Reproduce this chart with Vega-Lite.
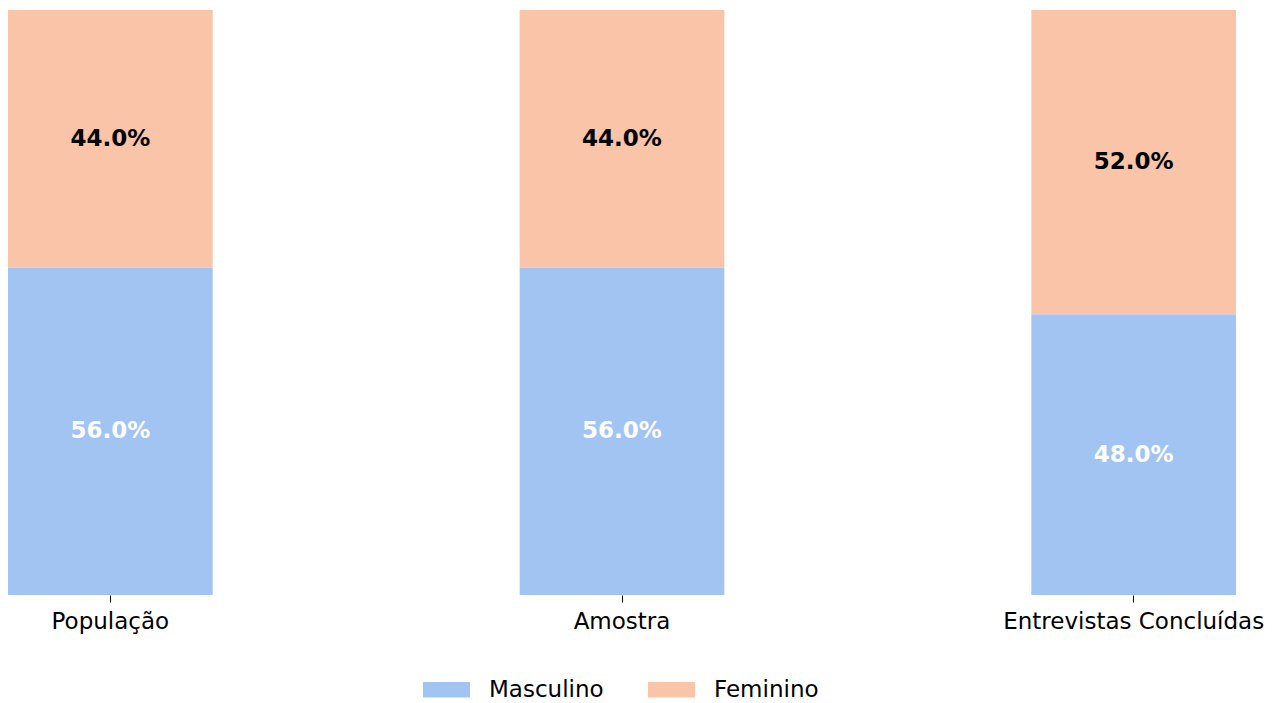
{
  "$schema": "https://vega.github.io/schema/vega-lite/v6.json",
  "width": 1228,
  "height": 585,
  "autosize": {"type": "none"},
  "padding": {"left": 8, "top": 10, "right": 43, "bottom": 108},
  "background": "white",
  "config": {"view": {"stroke": null}},
  "data": {
    "values": [
      {"grupo": "População", "genero": "Masculino", "pct": 0.56},
      {"grupo": "População", "genero": "Feminino", "pct": 0.44},
      {"grupo": "Amostra", "genero": "Masculino", "pct": 0.56},
      {"grupo": "Amostra", "genero": "Feminino", "pct": 0.44},
      {"grupo": "Entrevistas Concluídas", "genero": "Masculino", "pct": 0.48},
      {"grupo": "Entrevistas Concluídas", "genero": "Feminino", "pct": 0.52}
    ]
  },
  "transform": [
    {"stack": "pct", "groupby": ["grupo"], "sort": [{"field": "genero", "order": "descending"}], "as": ["v0", "v1"]},
    {"calculate": "(datum.v0 + datum.v1) / 2", "as": "mid"}
  ],
  "encoding": {
    "x": {
      "field": "grupo",
      "type": "nominal",
      "sort": null,
      "scale": {"paddingInner": 0.6, "paddingOuter": 0},
      "axis": {
        "title": null,
        "domain": false,
        "ticks": true,
        "tickColor": "black",
        "tickSize": 7,
        "tickWidth": 1,
        "labelFont": "DejaVu Sans",
        "labelFontSize": 23,
        "labelColor": "black",
        "labelPadding": 8,
        "labelLimit": 0,
        "labelAngle": 0,
        "labelOverlap": false,
        "grid": false
      }
    }
  },
  "layer": [
    {
      "mark": {"type": "bar", "opacity": 1},
      "encoding": {
        "y": {"field": "v0", "type": "quantitative", "scale": {"domain": [0, 1]}, "axis": null},
        "y2": {"field": "v1"},
        "color": {
          "field": "genero",
          "type": "nominal",
          "scale": {"domain": ["Masculino", "Feminino"], "range": ["#a1c4f2", "#f9c4a8"]},
          "legend": {
            "title": null,
            "orient": "none",
            "direction": "horizontal",
            "legendX": 415,
            "legendY": 656,
            "padding": 0,
            "symbolType": "M-1,-0.33H1V0.33H-1Z",
            "symbolSize": 2209,
            "symbolStrokeWidth": 0,
            "symbolOpacity": 1,
            "labelFont": "DejaVu Sans",
            "labelFontSize": 23,
            "labelColor": "black",
            "labelOffset": 19,
            "labelLimit": 0,
            "columnPadding": 44
          }
        }
      }
    },
    {
      "mark": {"type": "text", "font": "DejaVu Sans", "fontWeight": "bold", "fontSize": 23, "baseline": "middle"},
      "encoding": {
        "y": {"field": "mid", "type": "quantitative"},
        "text": {"field": "pct", "type": "quantitative", "format": ".1%"},
        "color": {"condition": {"test": "datum.genero === 'Masculino'", "value": "white"}, "value": "black"}
      }
    }
  ]
}
